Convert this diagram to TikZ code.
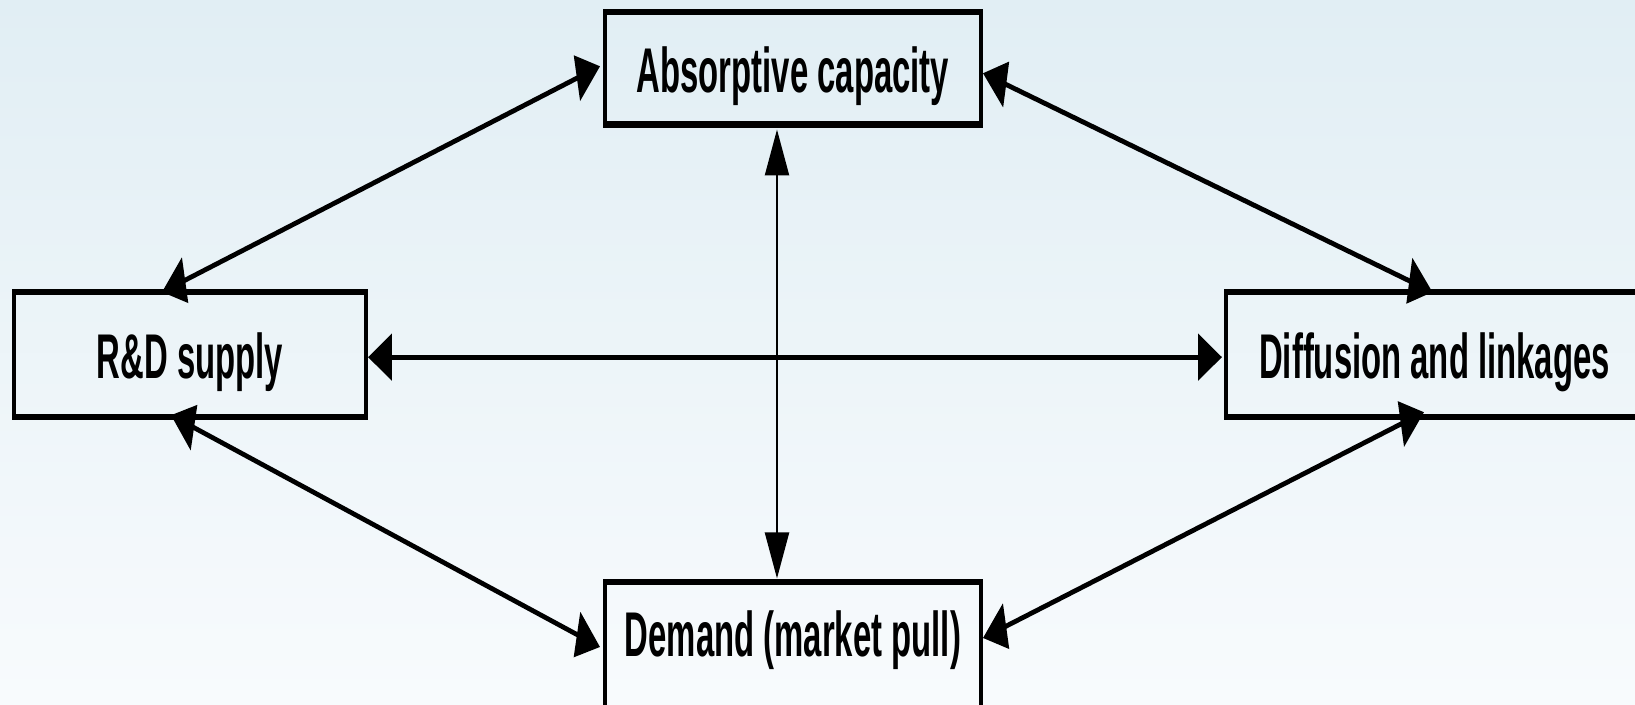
\documentclass[tikz,border=0pt]{standalone}
\usepackage{fontspec}
\setmainfont{Liberation Sans}
\usetikzlibrary{arrows.meta,calc}
\definecolor{bgtop}{RGB}{225,238,244}
\definecolor{bgbot}{RGB}{248,251,253}
\tikzset{
  box/.style={draw=black, line width=3.3pt, rectangle, inner xsep=0pt, inner ysep=0pt,
    outer sep=0pt, anchor=base, font=\bfseries\fontsize{31.6}{36}\selectfont},
  link/.style={line width=2.6pt,
    {Triangle[length=23pt,width=23pt]}-{Triangle[length=23pt,width=23pt]}},
}
\begin{document}
\begin{tikzpicture}
% background wash
\shade[top color=bgtop, bottom color=bgbot] (0pt,0pt) rectangle (817.5pt,-352.5pt);
\useasboundingbox (0pt,0pt) rectangle (817.5pt,-352.5pt);
% the diagram itself is set in a horizontally condensed frame
\begin{scope}[overlay, transform canvas={xscale=0.52}, x=0.961538pt, y=-0.5pt]
  \node[box, minimum width=361.5pt, text height=40.5pt, text depth=15.75pt] (cap) at (793,93) {Absorptive capacity};
  \node[box, minimum width=338.5pt, text height=43.2pt, text depth=19.35pt] (rd) at (190,378.5) {R\&D supply};
  \node[box, minimum width=401pt, text height=43.2pt, text depth=19.35pt] (dl) at (1434.5,378.5) {Diffusion and linkages};
  \node[box, minimum width=361.5pt, text height=37.5pt, text depth=27.5pt] (dm) at (793,657) {Demand (market pull)};

  \draw[link] ($(rd.north)+(-28,0)$) -- ($(cap.west)+(-5,-2)$);
  \draw[link] ($(cap.east)+(2,5)$) -- ($(dl.north)+(-2,0)$);
  \draw[link] ($(rd.south)+(-19,-2)$) -- ($(dm.west)+(-5,0)$);
  \draw[link] ($(dl.south)+(-10.5,-5)$) -- ($(dm.east)+(2,-9)$);
  \draw[link] ($(rd.east)+(2,2.5)$) -- ($(dl.west)+(-4,2.5)$);
  \draw[link] ($(cap.south)+(-16,5)$) -- ($(dm.north)+(-16,-3.5)$);
\end{scope}
\end{tikzpicture}
\end{document}
